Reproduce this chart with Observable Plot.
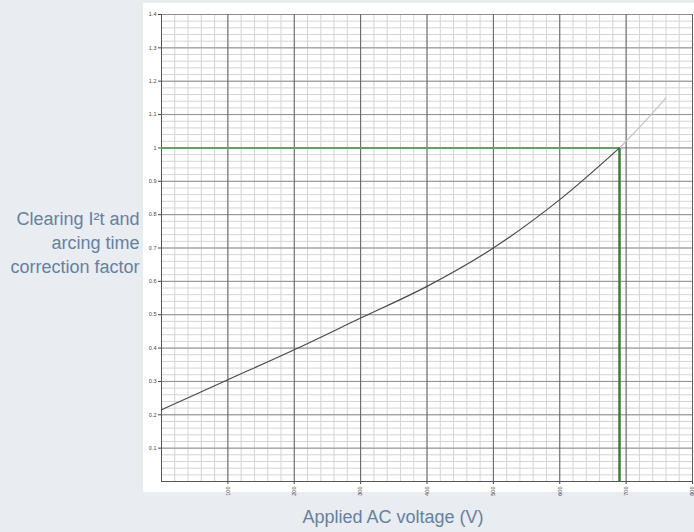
<!DOCTYPE html>
<html>
<head>
<meta charset="utf-8">
<script src="https://cdn.jsdelivr.net/npm/d3@7"></script>
<script src="https://cdn.jsdelivr.net/npm/@observablehq/plot@0.6"></script>
<style>
  html, body { margin: 0; padding: 0; background: #e9ecf0; }
  #wrap { position: relative; width: 694px; height: 532px; overflow: hidden; font-family: "Liberation Sans", Arial, sans-serif; }
  #panel { position: absolute; left: 143px; top: 3px; width: 551px; height: 489px; background: #ffffff; }
  #chart { position: absolute; left: 0; top: 0; }
</style>
</head>
<body>
<div id="wrap"><div id="panel"></div><div id="chart"></div></div>
<script>
// Curve
const voltage = [0, 100, 200, 300, 400, 500, 600, 690];
const factor  = [0.215, 0.305, 0.395, 0.49, 0.585, 0.70, 0.845, 1.0];
// Extension beyond rated voltage (lighter)
const voltageExt = [690, 725, 760];
const factorExt  = [1.0, 1.072, 1.15];
// Rated point
const ratedVoltage = [690];
const ratedFactor = [1.0];
// Ticks
const xTicks = [100, 200, 300, 400, 500, 600, 700, 800];
const yTicks = [0.1, 0.2, 0.3, 0.4, 0.5, 0.6, 0.7, 0.8, 0.9, 1, 1.1, 1.2, 1.3, 1.4];
const yLabel = "Clearing I\u00B2t and\narcing time\ncorrection factor";
const xLabel = "Applied AC voltage (V)";

const main = voltage.map((v, i) => ({v, f: factor[i]}));
const ext = voltageExt.map((v, i) => ({v, f: factorExt[i]}));
const rated = ratedVoltage.map((v, i) => ({v, f: ratedFactor[i]}));

const minorX = d3.range(0, 801, 20);
const majorX = d3.range(0, 801, 100);
const minorY = d3.range(0, 141, 2).map(d => d / 100);
const majorY = d3.range(0, 15, 1).map(d => d / 10);

const chart = Plot.plot({
  width: 694,
  height: 532,
  marginLeft: 161,
  marginRight: 2,
  marginTop: 14,
  marginBottom: 51,
  style: { background: "transparent", fontFamily: "Liberation Sans, Arial, sans-serif", color: "#444" },
  x: { domain: [0, 800] },
  y: { domain: [0, 1.4] },
  marks: [
    Plot.gridX(minorX, { stroke: "#d4d4d4", strokeOpacity: 1, strokeWidth: 1 }),
    Plot.gridY(minorY, { stroke: "#d4d4d4", strokeOpacity: 1, strokeWidth: 1 }),
    Plot.gridY(majorY, { stroke: "#8f8f8f", strokeOpacity: 1, strokeWidth: 1 }),
    Plot.gridX(majorX, { stroke: "#606060", strokeOpacity: 1, strokeWidth: 1 }),
    Plot.axisY(yTicks, { tickSize: 3, tickPadding: 2, fontSize: 5.5, label: null, tickFormat: d => String(+d.toFixed(1)) }),
    Plot.axisX(xTicks, { tickSize: 3, tickPadding: 2, fontSize: 5.5, label: null, tickRotate: -90 }),
    Plot.ruleX([0], { stroke: "#555" }),
    Plot.ruleY([0], { stroke: "#555" }),
    Plot.ruleY(rated, { y: "f", x1: 0, x2: "v", stroke: "#66a066", strokeWidth: 2 }),
    Plot.ruleX(rated, { x: "v", y1: 0, y2: "f", stroke: "#3c7a3c", strokeWidth: 2.5 }),
    Plot.line(ext, { x: "v", y: "f", stroke: "#c4c4c4", strokeWidth: 1.3, curve: "catmull-rom" }),
    Plot.line(main, { x: "v", y: "f", stroke: "#4a4a4a", strokeWidth: 1.2, curve: "catmull-rom" }),
    Plot.text([yLabel], { frameAnchor: "left", dx: -22, dy: -6.5, textAnchor: "end", lineAnchor: "middle", lineHeight: 1.33, fontSize: 18, fill: "#6681a0" }),
    Plot.text([xLabel], { frameAnchor: "bottom", dx: -34, dy: 36, textAnchor: "middle", lineAnchor: "middle", fontSize: 18, fill: "#6681a0" })
  ]
});
document.getElementById("chart").appendChild(chart);
</script>
</body>
</html>
